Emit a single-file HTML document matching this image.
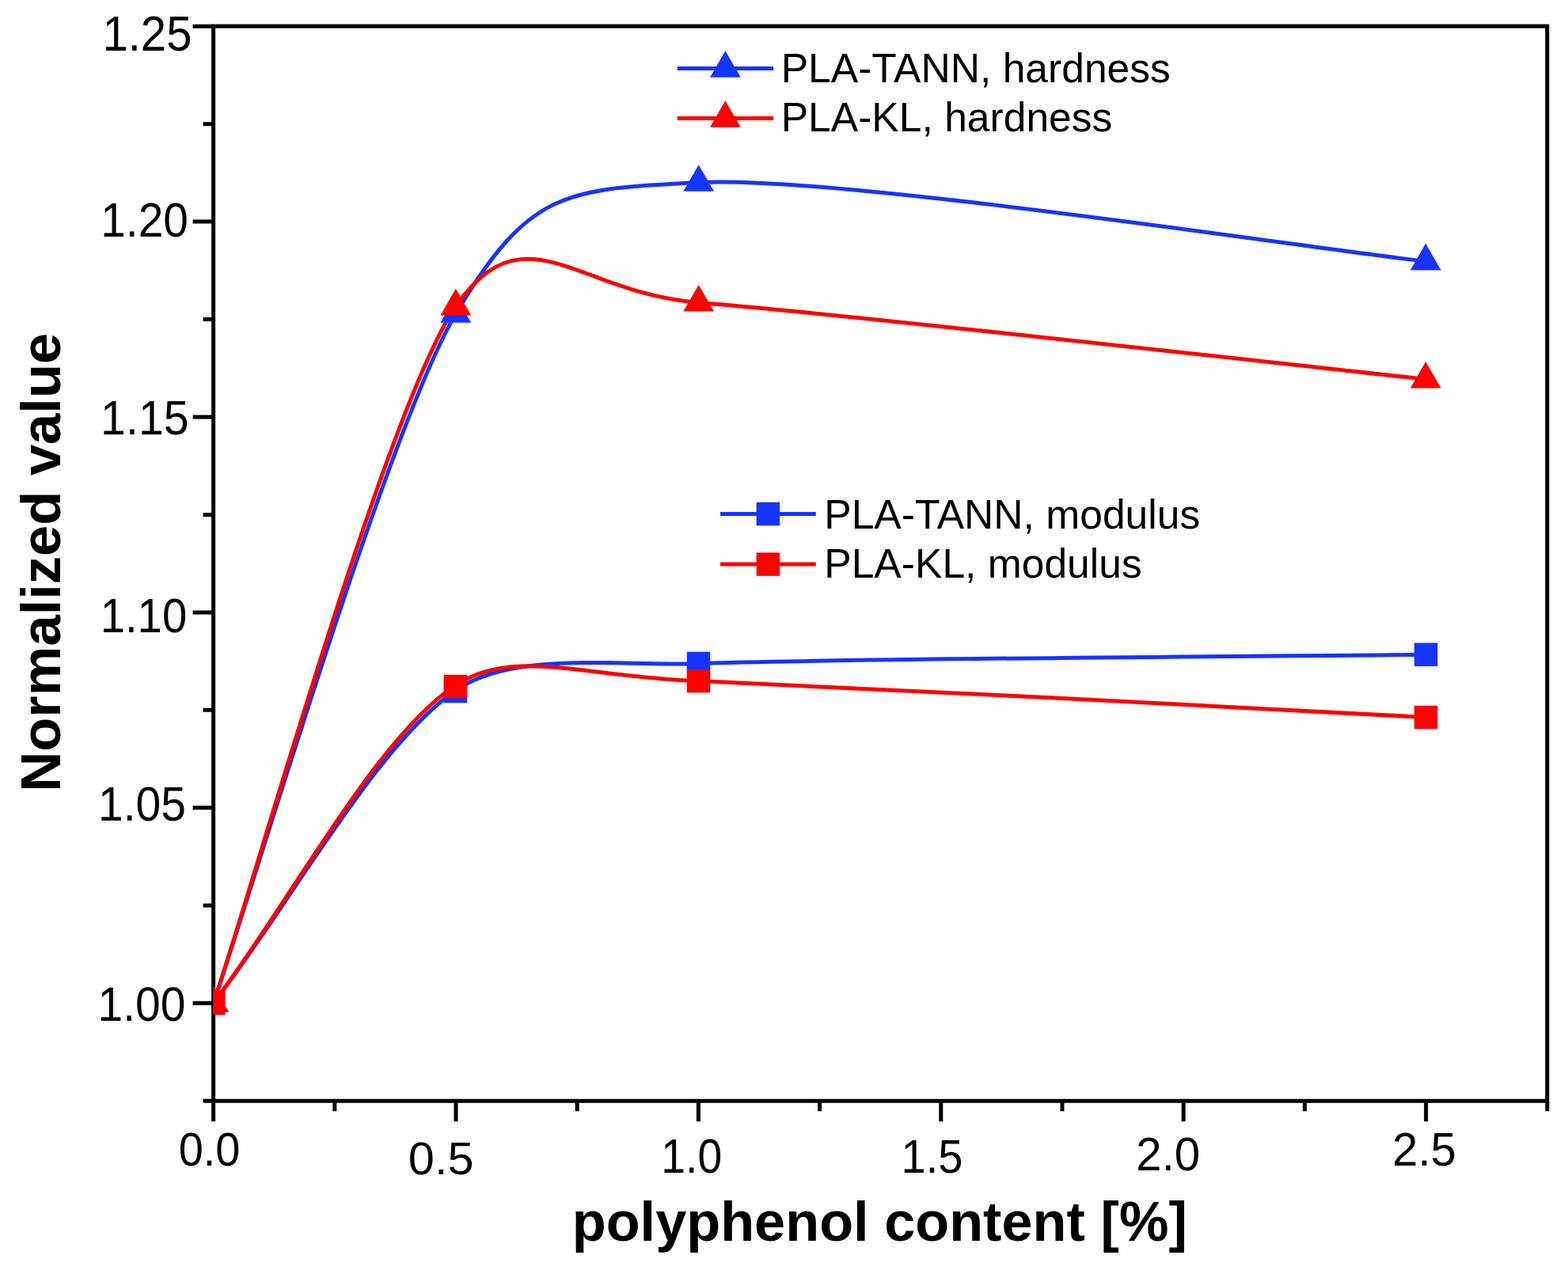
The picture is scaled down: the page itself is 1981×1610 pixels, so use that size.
<!DOCTYPE html>
<html><head><meta charset="utf-8"><title>Normalized value vs polyphenol content</title>
<style>html,body{margin:0;padding:0;background:#fefefe;}svg{display:block;}</style></head>
<body>
<svg width="1981" height="1610" viewBox="0 0 1981 1610">
<rect width="1981" height="1610" fill="#fefefe"/>
<g stroke="#000" stroke-width="5" fill="none" stroke-linecap="square">
<rect x="269.6" y="33.1" width="1685.1" height="1358.2" stroke-linecap="butt"/>
<path d="M256.6,1391.15H269.6 M243.6,1267.7H269.6 M256.6,1144.25H269.6 M243.6,1020.8H269.6 M256.6,897.35H269.6 M243.6,773.9H269.6 M256.6,650.45H269.6 M243.6,527H269.6 M256.6,403.55H269.6 M243.6,280.1H269.6 M256.6,156.65H269.6 M243.6,33.2H269.6 M269.6,1391.3V1417.3 M422.8,1391.3V1404.3 M576,1391.3V1417.3 M729.2,1391.3V1404.3 M882.4,1391.3V1417.3 M1035.6,1391.3V1404.3 M1188.8,1391.3V1417.3 M1342,1391.3V1404.3 M1495.2,1391.3V1417.3 M1648.4,1391.3V1404.3 M1801.6,1391.3V1417.3 M1954.8,1391.3V1404.3" stroke-linecap="butt"/>
</g>
<path d="M269.6,1267.7 C312.98,1144.28 488.94,543.42 575.8,396.5 C669.81,237.48 716.25,239.61 882.7,230.6 C1056.3,221.21 1671.08,316.09 1801.2,330.2" fill="none" stroke="#1634ff" stroke-width="5" clip-path="url(#clip)"/>
<path d="M269.6,1267.7 C315.53,1135.62 488.94,512.62 575.8,387.2 C662.96,261.34 729.53,370.89 882.7,382.4 C1056.3,395.45 1671.08,465.57 1801.2,479.3" fill="none" stroke="#ff0000" stroke-width="5" clip-path="url(#clip)"/>
<path d="M269.6,1267.7 C366.47,1142.55 473.35,944.03 575.5,872.5 C647.82,821.85 783.4,842.16 882.5,838.5 C1045.97,832.46 1678.97,828.71 1801.5,827.2" fill="none" stroke="#1634ff" stroke-width="5" clip-path="url(#clip)"/>
<path d="M269.6,1267.7 C366.47,1140.5 473.35,933.85 575.5,866 C648.64,817.42 737.83,855.82 882.5,860.6 C1045.97,866 1678.97,900.38 1801.5,906.5" fill="none" stroke="#ff0000" stroke-width="5" clip-path="url(#clip)"/>
<g clip-path="url(#clip)"><polygon points="269.6,1245.3 250.2,1278.9 289,1278.9" fill="#1634ff"/><polygon points="575.8,374.1 556.4,407.7 595.2,407.7" fill="#1634ff"/><polygon points="882.7,208.2 863.3,241.8 902.1,241.8" fill="#1634ff"/><polygon points="1801.2,307.8 1781.8,341.4 1820.6,341.4" fill="#1634ff"/></g>
<g clip-path="url(#clip)"><polygon points="269.6,1245.3 250.2,1278.9 289,1278.9" fill="#ff0000"/><polygon points="575.8,364.8 556.4,398.4 595.2,398.4" fill="#ff0000"/><polygon points="882.7,360 863.3,393.6 902.1,393.6" fill="#ff0000"/><polygon points="1801.2,456.9 1781.8,490.5 1820.6,490.5" fill="#ff0000"/></g>
<g clip-path="url(#clip)"><rect x="254.85" y="1252.95" width="29.5" height="29.5" fill="#1634ff"/><rect x="560.75" y="858.75" width="29.5" height="29.5" fill="#1634ff"/><rect x="867.75" y="823.75" width="29.5" height="29.5" fill="#1634ff"/><rect x="1786.75" y="812.45" width="29.5" height="29.5" fill="#1634ff"/></g>
<g clip-path="url(#clip)"><rect x="254.85" y="1252.95" width="29.5" height="29.5" fill="#ff0000"/><rect x="560.75" y="852.75" width="29.5" height="29.5" fill="#ff0000"/><rect x="867.75" y="845.85" width="29.5" height="29.5" fill="#ff0000"/><rect x="1786.75" y="891.75" width="29.5" height="29.5" fill="#ff0000"/></g>
<g stroke-width="5">
<line x1="855.7" y1="86.6" x2="977.2" y2="86.6" stroke="#1634ff"/>
<polygon points="916.4,64.2 897,97.8 935.8,97.8" fill="#1634ff"/>
<line x1="855.7" y1="149.6" x2="977.2" y2="149.6" stroke="#ff0000"/>
<polygon points="916.4,127.2 897,160.8 935.8,160.8" fill="#ff0000"/>
<line x1="910" y1="649.5" x2="1030.8" y2="649.5" stroke="#1634ff"/>
<rect x="955.65" y="634.75" width="29.5" height="29.5" fill="#1634ff"/>
<line x1="910" y1="713.1" x2="1030.8" y2="713.1" stroke="#ff0000"/>
<rect x="955.65" y="698.35" width="29.5" height="29.5" fill="#ff0000"/>
</g>
<g font-family="'Liberation Sans', Arial, sans-serif" fill="#000">
<text transform="translate(129.44,63.88) scale(0.9340,1)" font-size="62.19" font-weight="normal">1.25</text>
<text transform="translate(127.13,298.9) scale(0.9440,1)" font-size="60.35" font-weight="normal">1.20</text>
<text transform="translate(127.1,549.39) scale(0.9364,1)" font-size="61.22" font-weight="normal">1.15</text>
<text transform="translate(126.68,798.89) scale(0.9236,1)" font-size="60.92" font-weight="normal">1.10</text>
<text transform="translate(123.92,1036.69) scale(0.9352,1)" font-size="61.06" font-weight="normal">1.05</text>
<text transform="translate(123.42,1290.29) scale(0.9339,1)" font-size="61.06" font-weight="normal">1.00</text>
<text transform="translate(225.66,1472.92) scale(0.9580,1)" font-size="58.37" font-weight="normal">0.0</text>
<text transform="translate(515.82,1484.42) scale(1.0212,1)" font-size="58.23" font-weight="normal">0.5</text>
<text transform="translate(835.35,1481.98) scale(0.8980,1)" font-size="61.63" font-weight="normal">1.0</text>
<text transform="translate(1138.49,1482.4) scale(0.9403,1)" font-size="59.64" font-weight="normal">1.5</text>
<text transform="translate(1435.29,1479.21) scale(0.9911,1)" font-size="58.8" font-weight="normal">2.0</text>
<text transform="translate(1759.1,1473.1) scale(0.9691,1)" font-size="59.93" font-weight="normal">2.5</text>
<text x="986.67" y="103.8" font-size="51.6">PLA-TANN, hardness</text>
<text x="986.67" y="166.3" font-size="51.6">PLA-KL, hardness</text>
<text x="1041.27" y="667.7" font-size="51.6">PLA-TANN, modulus</text>
<text x="1041.27" y="730.4" font-size="51.6">PLA-KL, modulus</text>
<text transform="translate(75.6,1000.68) rotate(-90)" font-size="70.5" font-weight="bold">Normalized value</text>
<text x="722.73" y="1568.3" font-size="70.3" font-weight="bold">polyphenol content [%]</text>
</g>
<defs><clipPath id="clip"><rect x="269.6" y="33.1" width="1685.1" height="1358.2"/></clipPath></defs>
</svg>
</body></html>
